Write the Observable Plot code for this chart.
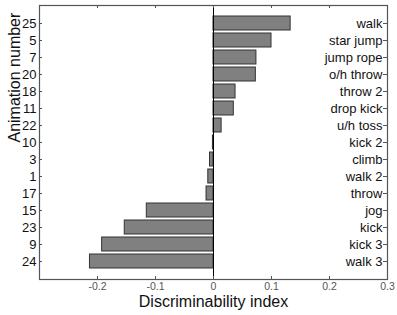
<!DOCTYPE html>
<html>
<head>
<meta charset="utf-8">
<script src="https://cdn.jsdelivr.net/npm/d3@7"></script>
<script src="https://cdn.jsdelivr.net/npm/@observablehq/plot@0.6"></script>
<style>
  html, body { margin: 0; padding: 0; background: #fff; }
  #chart svg { display: block; }
</style>
</head>
<body>
<div id="chart"></div>
<script>
// Animation numbers, top to bottom
const animationIds = ["25", "5", "7", "20", "18", "11", "22", "10", "3", "1", "17", "15", "23", "9", "24"];
// Animation names (right side labels)
const animationNames = ["walk", "star jump", "jump rope", "o/h throw", "throw 2", "drop kick", "u/h toss", "kick 2", "climb", "walk 2", "throw", "jog", "kick", "kick 3", "walk 3"];
// Discriminability index values
const discriminability = [0.133, 0.100, 0.074, 0.073, 0.038, 0.035, 0.014, -0.001, -0.006, -0.009, -0.012, -0.115, -0.153, -0.192, -0.213];
// x tick values and labels
const xTicks = [-0.3, -0.2, -0.1, 0, 0.1, 0.2, 0.3];
const xTickLabels = ["", "-0.2", "-0.1", "0", "0.1", "0.2", "0.3"];

const data = animationIds.map((id, i) => ({id, name: animationNames[i], value: discriminability[i]}));
const nameOf = new Map(animationIds.map((id, i) => [id, animationNames[i]]));
const xLabelOf = new Map(xTicks.map((t, i) => [t, xTickLabels[i]]));

const W = 397, H = 315, ML = 39, MR = 10, MT = 5, MB = 36;
const frameW = W - ML - MR, frameH = H - MT - MB;
const tick = 3;
const font = "'Liberation Sans', Arial, sans-serif";

const chart = Plot.plot({
  width: W,
  height: H,
  marginLeft: ML,
  marginRight: MR,
  marginTop: MT,
  marginBottom: MB,
  style: {fontFamily: font, fontSize: "13px", color: "#111", background: "#fff"},
  x: {domain: [-0.3, 0.3]},
  y: {type: "band", domain: animationIds, paddingInner: 0.2, paddingOuter: 0.6},
  marks: [
    Plot.barX(data, {x: "value", y: "id", fill: "#808080", stroke: "#333", strokeWidth: 1}),
    Plot.ruleX([0], {stroke: "#000", strokeWidth: 1}),
    // inward ticks: bottom, top, left, right
    Plot.tickX(xTicks, {x: d => d, insetTop: frameH - tick, stroke: "#555"}),
    Plot.tickX(xTicks, {x: d => d, insetBottom: frameH - tick, stroke: "#555"}),
    Plot.tickY(animationIds, {y: d => d, insetRight: frameW - tick, stroke: "#555"}),
    Plot.tickY(animationIds, {y: d => d, insetLeft: frameW - 4, stroke: "#555"}),
    Plot.frame({stroke: "#555", strokeWidth: 1.2}),
    // bottom axis labels
    Plot.axisX({anchor: "bottom", ticks: xTicks, tickSize: 0, tickPadding: 3, tickFormat: d => xLabelOf.get(d), fontSize: 10.5, fill: "#555", label: null}),
    // left axis: animation numbers
    Plot.axisY({anchor: "left", tickSize: 0, tickPadding: 3, fontSize: 13, fill: "#111", label: null}),
    // right side: names inside the frame
    Plot.axisY({anchor: "right", tickSize: 0, tickPadding: 0, dx: -5, textAnchor: "end", tickFormat: d => nameOf.get(d), fontSize: 13, fill: "#111", label: null}),
    // axis titles
    Plot.text(["Discriminability index"], {frameAnchor: "bottom", dy: 22, fontSize: 16, fill: "#111", lineAnchor: "middle"}),
    Plot.text(["Animation number"], {frameAnchor: "left", rotate: -90, dx: -25, fontSize: 16, fill: "#111", lineAnchor: "middle"})
  ]
});

document.getElementById("chart").appendChild(chart);
</script>
</body>
</html>
